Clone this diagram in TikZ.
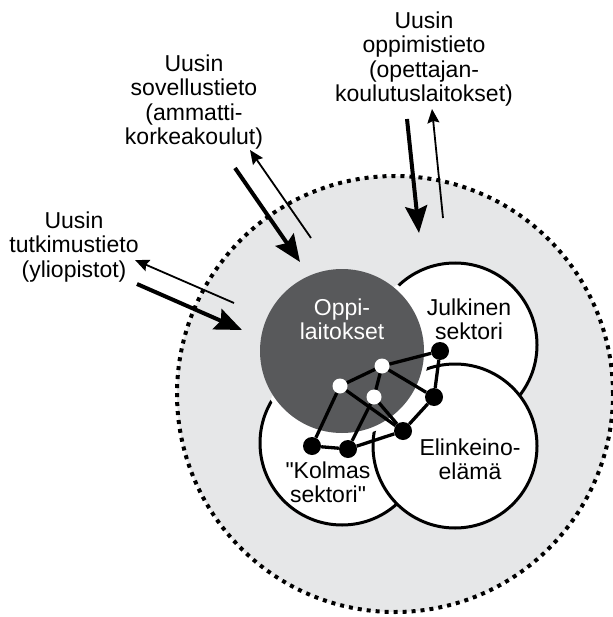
\documentclass[tikz,border=0pt]{standalone}
\usepackage{fontspec}
\setmainfont{Liberation Sans}[Ligatures=TeXOff]
\usetikzlibrary{arrows.meta}
\definecolor{haze}{HTML}{E6E7E8}
\definecolor{slate}{HTML}{58595B}

\begin{document}
\begin{tikzpicture}[x=1pt, y=-1pt,
    every node/.style={font=\fontsize{23}{24.4}\selectfont, align=center, inner sep=0pt},
    sector/.style={circle, draw=black, line width=3pt, fill=white, minimum size=164pt},
    blackdot/.style={circle, fill=black, minimum size=18pt},
    whitedot/.style={circle, fill=white, minimum size=15pt},
    link/.style={line width=3.3pt},
    bigarrow/.style={line width=4pt, -{Stealth[length=27pt, width=22pt, inset=4pt]}},
    smallarrow/.style={line width=1.8pt, -{Stealth[length=14pt, width=12pt, inset=2pt]}}]
    \useasboundingbox (0,0) rectangle (612,617);

    % SURROUNDING FIELD
    \node[circle, draw=black, fill=haze, line width=4pt, dash pattern=on 4pt off 5pt,
          minimum size=436pt] (field) at (395,394) {};

    % SECTORS
    \node[sector] (kolmas) at (342,443) {};
    \node[sector] (julkinen) at (455,345) {};
    \node[sector] (elinkeino) at (455,446) {};
    % white gap round the dark circle, only inside the other sectors
    \begin{scope}
        \clip (kolmas.center) circle (84pt) (julkinen.center) circle (84pt)
              (elinkeino.center) circle (84pt);
        \fill[white] (342,351) circle (86.5pt);
    \end{scope}
    \node[sector, fill=slate, draw=none] (oppi) at (342,351) {};

    \node[text=white] (oppilabel) at (342,319) {Oppi-\\laitokset};
    \node (julkinenlabel) at (469,319) {Julkinen\\sektori};
    \node (elinkeinolabel) at (470,459) {Elinkeino-\\elämä};
    \node (kolmaslabel) at (328,482) {"Kolmas\\sektori"};

    % NETWORK
    \foreach \n/\x/\y in {J1/440/351, J2/434/397, E1/403/431, K1/312/446, K2/348/449}
        \node[blackdot] (\n) at (\x,\y) {};
    \foreach \n/\x/\y in {W1/340/386, W2/382/366, W3/374/397}
        \node[whitedot] (\n) at (\x,\y) {};
    \foreach \a/\b in {W1/W2, W2/J1, J1/J2, W2/J2, J2/E1, W1/K1, W1/E1,
                       W2/W3, W3/K2, W3/E1, K1/K2, K2/E1}
        \draw[link] (\a) -- (\b);

    % KNOWLEDGE SOURCES
    \node (tutkimus) at (74,247) {Uusin\\tutkimustieto\\(yliopistot)};
    \node (sovellus) at (194,102) {Uusin\\sovellustieto\\(ammatti-\\korkeakoulut)};
    \node (oppimis) at (424,59) {Uusin\\oppimistieto\\(opettajan-\\koulutuslaitokset)};

    % Arrow ends
    \coordinate (tutIn0) at (137,284);  \coordinate (tutIn1) at (242,330);
    \coordinate (tutOut0) at (234,303); \coordinate (tutOut1) at (135,260);
    \coordinate (sovIn0) at (235,168);  \coordinate (sovIn1) at (300,262);
    \coordinate (sovOut0) at (311,238); \coordinate (sovOut1) at (250,150);
    \coordinate (oppIn0) at (407,119);  \coordinate (oppIn1) at (419,233);
    \coordinate (oppOut0) at (443,218); \coordinate (oppOut1) at (432,109);

    \draw[bigarrow] (tutIn0) -- (tutIn1);
    \draw[smallarrow] (tutOut0) -- (tutOut1);
    \draw[bigarrow] (sovIn0) -- (sovIn1);
    \draw[smallarrow] (sovOut0) -- (sovOut1);
    \draw[bigarrow] (oppIn0) -- (oppIn1);
    \draw[smallarrow] (oppOut0) -- (oppOut1);
\end{tikzpicture}
\end{document}
